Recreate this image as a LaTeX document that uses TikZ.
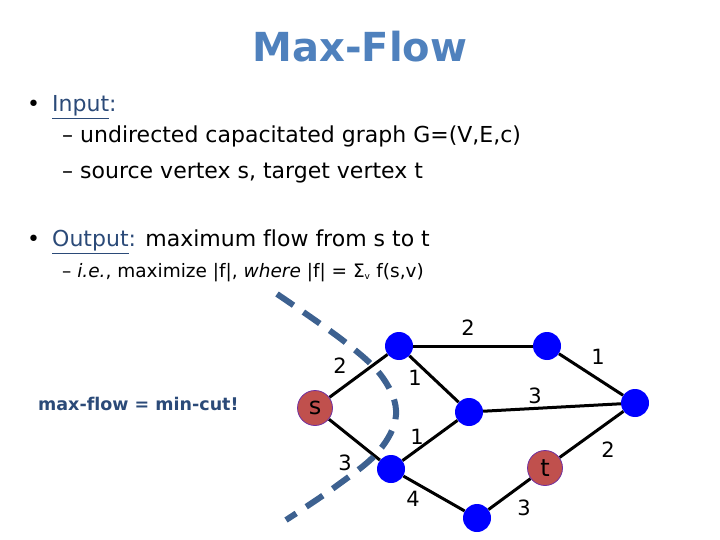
\documentclass[tikz,border=0pt]{standalone}
\usepackage{fontspec}
\setmainfont[Ligatures=NoCommon]{DejaVu Sans}
\usetikzlibrary{calc}
\definecolor{titleblue}{HTML}{4F81BD}
\definecolor{navy}{HTML}{2B4A78}
\definecolor{cutblue}{HTML}{3D6190}
\definecolor{nodered}{HTML}{C0504D}
\definecolor{nodeedge}{HTML}{7030A0}
\pgfdeclarelayer{background}
\pgfsetlayers{background,main}
\tikzset{
  vtx/.style={circle, fill=blue, minimum size=28pt, inner sep=0pt},
  term/.style={circle, fill=nodered, draw=nodeedge, line width=0.8pt, minimum size=35pt, inner sep=0pt, font=\fontsize{24}{24}\selectfont},
  edge/.style={line width=3pt, black},
  elab/.style={font=\fontsize{21}{21}\selectfont, inner sep=0pt},
  body/.style={anchor=base west, inner sep=0pt, font=\fontsize{22}{26}\selectfont},
  small/.style={anchor=base west, inner sep=0pt, font=\fontsize{18.5}{22}\selectfont},
  cut/.style={line width=6pt, cutblue, dash pattern=on 20pt off 12pt}
}
\begin{document}
\begin{tikzpicture}[x=1pt,y=-1pt]
\useasboundingbox (0,0) rectangle (720,540);
% title
\node[anchor=base, inner sep=0pt, text=titleblue, font=\fontsize{40}{40}\selectfont\bfseries] (title) at (360,62) {Max-Flow};
% bullets
\node[body] (b1) at (27,112) {•};
\node[body, text=navy] (inp) at (52,112) {\underline{Input}:};
\node[body] (l1) at (62,143) {– undirected capacitated graph G=(V,E,c)};
\node[body] (l2) at (62,179) {– source vertex s, target vertex t};
\node[body] (b2) at (27,247) {•};
\node[body] (outp) at (52,247) {\textcolor{navy}{\underline{Output}:} maximum flow from s to t};
\node[small] (l3) at (62,277) {– \textit{i.e.}, maximize |f|, \textit{where} |f| = Σ\textsubscript{\fontsize{9}{9}\selectfont v} f(s,v)};
\node[anchor=base west, inner sep=0pt, text=navy, font=\fontsize{17.5}{20}\selectfont\bfseries] (mf) at (38,410) {max-flow = min-cut!};
% graph nodes
\node[term] (s) at (315,408) {s};
\node[vtx] (a) at (399,346) {};
\node[vtx] (b) at (547,346) {};
\node[vtx] (c) at (469,412) {};
\node[vtx] (d) at (635,403) {};
\node[vtx] (e) at (391,469) {};
\node[vtx] (f) at (477,518) {};
\node[term] (t) at (545,468) {t};
% edge labels
\node[elab] (w1) at (468,328) {2};
\node[elab] (w2) at (598,357) {1};
\node[elab] (w3) at (340,366) {2};
\node[elab] (w4) at (415,378) {1};
\node[elab] (w5) at (535,396) {3};
\node[elab] (w6) at (417,437) {1};
\node[elab] (w7) at (345,463) {3};
\node[elab] (w8) at (608,450) {2};
\node[elab] (w9) at (413,499) {4};
\node[elab] (w10) at (524,508) {3};
\begin{pgfonlayer}{background}
\draw[edge] (s) -- (a);
\draw[edge] (s) -- (e);
\draw[edge] (a) -- (b);
\draw[edge] (a) -- (c);
\draw[edge] (b) -- (d);
\draw[edge] (c) -- (d);
\draw[edge] (e) -- (c);
\draw[edge] (e) -- (f);
\draw[edge] (f) -- (t);
\draw[edge] (t) -- (d);
\coordinate (k1) at (277,294);
\coordinate (k2) at (345,342);
\coordinate (k3) at (383,378);
\coordinate (k4) at (396,415);
\coordinate (k5) at (378,452);
\coordinate (k6) at (335,487);
\coordinate (k7) at (286,520);
\draw[cut] plot[smooth, tension=0.6] coordinates {(k1) (k2) (k3) (k4) (k5) (k6) (k7)};
\end{pgfonlayer}
\end{tikzpicture}
\end{document}
